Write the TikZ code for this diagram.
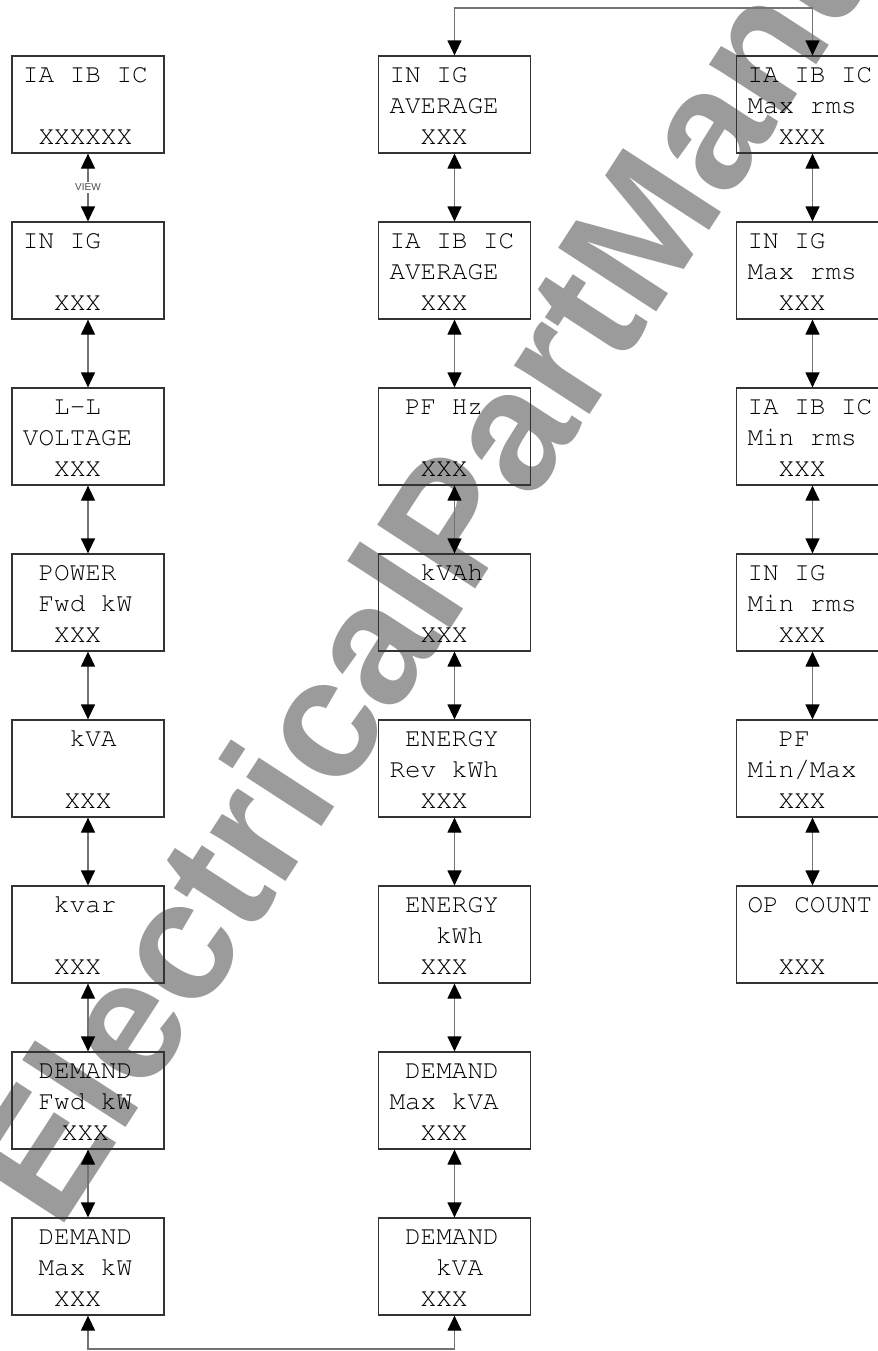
\documentclass[tikz,border=0pt]{standalone}
\usepackage{fontspec}
\usetikzlibrary{arrows.meta}
\newfontfamily\wmfont{Liberation Sans}
\newcommand\lcdfont{\fontencoding{T1}\fontfamily{pcr}\fontsize{13}{15.5}\selectfont}
\definecolor{wmgray}{RGB}{155,155,155}
\newcommand\ind[1]{\hspace*{#1em}}

\begin{document}
\begin{tikzpicture}[x=0.5pt, y=-0.5pt,
  disp/.style={draw=black!80, line width=0.6pt, rectangle, minimum width=76pt, minimum height=48.5pt,
    inner xsep=5.5pt, inner ysep=0pt, text width=65pt, align=left, text height=13.2pt, text depth=35.3pt,
    font=\lcdfont, execute at begin node={\spaceskip=7.8pt\relax}},
  link/.style={draw=black!55, line width=0.6pt, >={Triangle[width=7pt,length=7.5pt,color=black]}, <->},
  viewlbl/.style={fill=white, inner sep=1pt, text=black!70, font=\wmfont\fontsize{5}{6}\selectfont},
  wm/.style={anchor=base west, rotate=57, inner sep=0pt, text=wmgray, font=\wmfont\bfseries\fontsize{85}{88}\selectfont}
]
\useasboundingbox (0,0) rectangle (878,1351);

% watermark (behind the displays)
\node[wm] (mark) at (58,1233) {ElectricalPartManuals};

% left column
\node[disp] (l1) at (88,104.5) {IA IB IC\\\mbox{}\\\ind{.6}XXXXXX};
\node[disp] (l2) at (88,270.5) {IN IG\\\mbox{}\\\ind{1.2}XXX};
\node[disp] (l3) at (88,436.5) {\ind{1.2}L-L\\VOLTAGE\\\ind{1.2}XXX};
\node[disp] (l4) at (88,602.5) {\ind{.6}POWER\\\ind{.6}Fwd kW\\\ind{1.2}XXX};
\node[disp] (l5) at (88,768.5) {\ind{1.8}kVA\\\mbox{}\\\ind{1.6}XXX};
\node[disp] (l6) at (88,934.5) {\ind{1.2}kvar\\\mbox{}\\\ind{1.2}XXX};
\node[disp] (l7) at (88,1100.5) {\ind{.6}DEMAND\\\ind{.6}Fwd kW\\\ind{1.5}XXX};
\node[disp] (l8) at (88,1266.5) {\ind{.6}DEMAND\\\ind{.6}Max kW\\\ind{1.2}XXX};

% middle column
\node[disp] (m1) at (454.5,104.5) {IN IG\\AVERAGE\\\ind{1.2}XXX};
\node[disp] (m2) at (454.5,270.5) {IA IB IC\\AVERAGE\\\ind{1.2}XXX};
\node[disp] (m3) at (454.5,436.5) {\ind{.6}PF Hz\\\mbox{}\\\ind{1.2}XXX};
\node[disp] (m4) at (454.5,602.5) {\ind{1.2}kVAh\\\mbox{}\\\ind{1.2}XXX};
\node[disp] (m5) at (454.5,768.5) {\ind{.6}ENERGY\\Rev kWh\\\ind{1.2}XXX};
\node[disp] (m6) at (454.5,934.5) {\ind{.6}ENERGY\\\ind{1.8}kWh\\\ind{1.2}XXX};
\node[disp] (m7) at (454.5,1100.5) {\ind{.6}DEMAND\\Max kVA\\\ind{1.2}XXX};
\node[disp] (m8) at (454.5,1266.5) {\ind{.6}DEMAND\\\ind{1.8}kVA\\\ind{1.2}XXX};

% right column (cut off by the page edge)
\node[disp] (r1) at (812.5,104.5) {IA IB IC\\Max rms\\\ind{1.2}XXX};
\node[disp] (r2) at (812.5,270.5) {IN IG\\Max rms\\\ind{1.2}XXX};
\node[disp] (r3) at (812.5,436.5) {IA IB IC\\Min rms\\\ind{1.2}XXX};
\node[disp] (r4) at (812.5,602.5) {IN IG\\Min rms\\\ind{1.2}XXX};
\node[disp] (r5) at (812.5,768.5) {\ind{1.2}PF\\Min/Max\\\ind{1.2}XXX};
\node[disp] (r6) at (812.5,934.5) {OP COUNT\\\mbox{}\\\ind{1.2}XXX};

% links
\draw[link] (l1) -- node[viewlbl] {VIEW} (l2);
\draw[link] (l2) -- (l3);
\draw[link] (l3) -- (l4);
\draw[link] (l4) -- (l5);
\draw[link] (l5) -- (l6);
\draw[link] (l6) -- (l7);
\draw[link] (l7) -- (l8);
\draw[link] (m1) -- (m2);
\draw[link] (m2) -- (m3);
\draw[link] (m3) -- (m4);
\draw[link] (m4) -- (m5);
\draw[link] (m5) -- (m6);
\draw[link] (m6) -- (m7);
\draw[link] (m7) -- (m8);
\draw[link] (r1) -- (r2);
\draw[link] (r2) -- (r3);
\draw[link] (r3) -- (r4);
\draw[link] (r4) -- (r5);
\draw[link] (r5) -- (r6);

\coordinate (bot) at (270,1349);
\coordinate (top) at (634,8);
\draw[link] (l8.south) |- (bot) -| (m8.south);
\draw[link] (m1.north) |- (top) -| (r1.north);
\end{tikzpicture}
\end{document}
